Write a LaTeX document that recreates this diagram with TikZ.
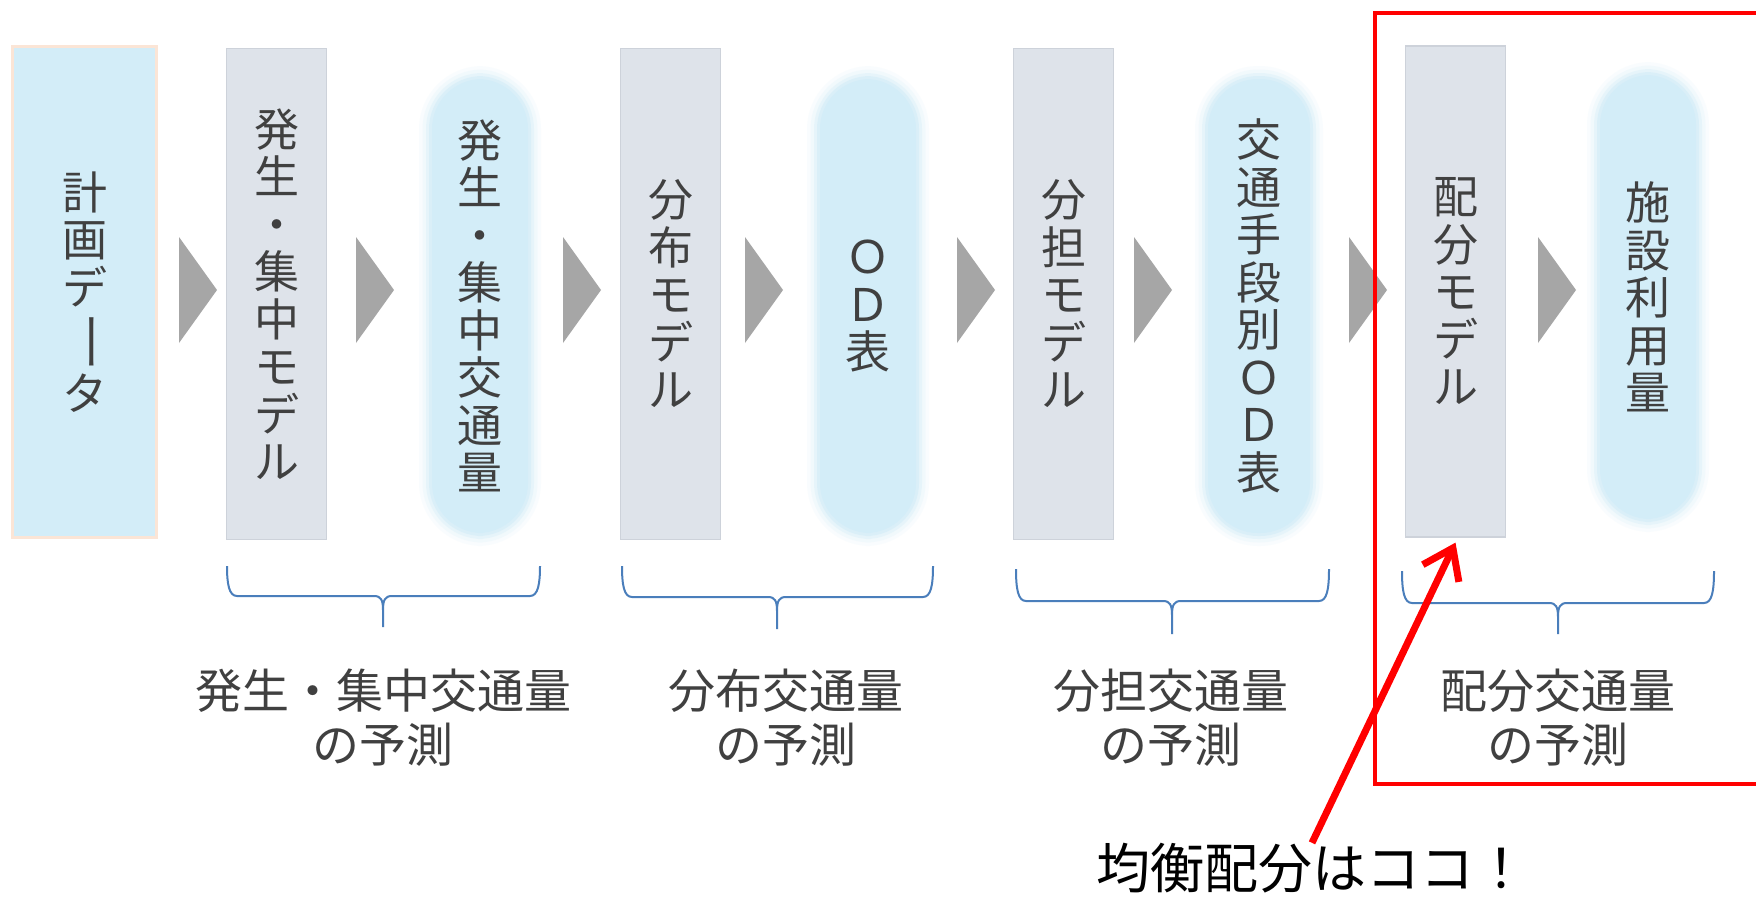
\documentclass[tikz,border=0pt]{standalone}
\usepackage{fontspec}
\usepackage{graphicx}
\setmainfont{Noto Sans CJK JP}
\usetikzlibrary{arrows.meta}
\definecolor{lblue}{HTML}{D3EDF8}
\definecolor{peach}{HTML}{FBE5D6}
\definecolor{mgrey}{HTML}{DEE3EA}
\definecolor{mgreyb}{HTML}{CDD2DA}
\definecolor{chevc}{HTML}{A6A6A6}
\definecolor{txt}{HTML}{404040}
\definecolor{brc}{HTML}{4A7EBB}
\newcommand\vbar{\rotatebox[origin=c]{-90}{\scalebox{1.35}[1]{ー}}}
\newcommand\chevron[1]{\fill[chevc] (#1,237) -- ++(0,106) -- ++(38,-53) -- cycle;}
% x1, xm, x2, ytop, yh, ytip
\newcommand\obrace[6]{%
  \draw[brc, line width=2]
    (#1,#4) .. controls (#1,{#5-12}) and ({#1+2},#5) .. ({#1+10},#5)
    -- ({#2-9},#5) .. controls ({#2-2},#5) and (#2,{#5+4}) .. (#2,{#5+14})
    -- (#2,#6)
    (#2,{#5+14}) .. controls (#2,{#5+4}) and ({#2+2},#5) .. ({#2+9},#5)
    -- ({#3-10},#5) .. controls ({#3-2},#5) and (#3,{#5-12}) .. (#3,#4);}
\tikzset{
  every node/.style={text=txt, inner sep=0pt},
  vtext/.style={align=center, font=\fontsize{45}{47.5}\selectfont},
  databox/.style={vtext, fill=lblue, draw=peach, line width=3, minimum width=144, minimum height=491},
  modelbox/.style={vtext, fill=mgrey, draw=mgreyb, line width=1.2, minimum width=100, minimum height=491},
  pill/.style={vtext, fill=lblue, rounded corners=50, minimum width=96, minimum height=454,
    preaction={draw=lblue, line width=26, draw opacity=0.12},
    preaction={draw=lblue, line width=19, draw opacity=0.2},
    preaction={draw=lblue, line width=12, draw opacity=0.35},
    preaction={draw=lblue, line width=6, draw opacity=0.6}},
  lbl/.style={align=center, font=\fontsize{47}{54}\selectfont},
}
\begin{document}
\begin{tikzpicture}[x=1pt, y=-1pt]
\useasboundingbox (0,0) rectangle (1756,906);
\fill[white] (0,0) rectangle (1756,906);

\node[databox] (n1) at (84.5,292) {計\\画\\デ\\\vbar\\タ};
\node[modelbox] (n2) at (276.5,294) {発\\生\\・\\集\\中\\モ\\デ\\ル};
\node[pill] (n3) at (480,306) {発\\生\\・\\集\\中\\交\\通\\量};
\node[modelbox] (n4) at (670.5,294) {分\\布\\モ\\デ\\ル};
\node[pill] (n5) at (868,306) {Ｏ\\Ｄ\\表};
\node[modelbox] (n6) at (1063.5,294) {分\\担\\モ\\デ\\ル};
\node[pill, minimum width=102] (n7) at (1259,306) {交\\通\\手\\段\\別\\Ｏ\\Ｄ\\表};
\node[modelbox] (n8) at (1455.5,291.5) {配\\分\\モ\\デ\\ル};
\node[pill, minimum height=444] (n9) at (1648,297) {施\\設\\利\\用\\量};

\chevron{179}
\chevron{356}
\chevron{563}
\chevron{745}
\chevron{957}
\chevron{1134}
\chevron{1349}
\chevron{1538}

\obrace{227}{383}{540}{566}{596}{627}
\obrace{622}{777}{933}{566}{597}{629}
\obrace{1016}{1172}{1329}{569}{601}{634}
\obrace{1402}{1558}{1714}{571}{603}{634}

\node[lbl] (l1) at (383,718) {発生・集中交通量\\の予測};
\node[lbl] (l2) at (786,718) {分布交通量\\の予測};
\node[lbl] (l3) at (1171,718) {分担交通量\\の予測};
\node[lbl] (l4) at (1558,718) {配分交通量\\の予測};

\draw[red, line width=4.5] (1775,13) -- (1375,13) -- (1375,784) -- (1775,784);

\node[font=\fontsize{54}{60}\selectfont, text=black] (call) at (1312,868) {均衡配分はココ！};
\coordinate (tip) at ([yshift=-5pt]n8.south);
\draw[red, line width=7, -{Straight Barb[length=28, width=40]}] (call.north) -- (tip);
\end{tikzpicture}
\end{document}
